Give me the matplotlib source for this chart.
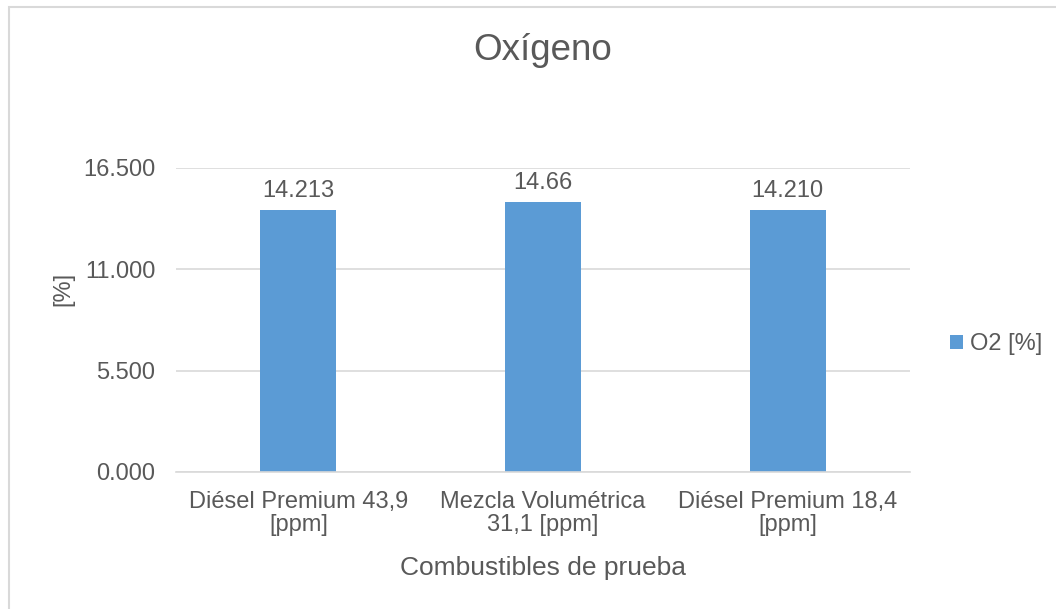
import matplotlib
matplotlib.use("Agg")
import matplotlib.pyplot as plt
from matplotlib.patches import Rectangle
import numpy as np

categories = ["Diésel Premium 43,9\n[ppm]", "Mezcla Volumétrica\n31,1 [ppm]", "Diésel Premium 18,4\n[ppm]"]
o2_values = [14.213, 14.66, 14.210]
label_decimals = [3, 2, 3]
y_ticks = [0.0, 5.5, 11.0, 16.5]

title = "Oxígeno"
x_title = "Combustibles de prueba"
y_title = "[%]"
series_name = "O2 [%]"

BAR_COLOR = "#5B9BD5"
TEXT_COLOR = "#595959"
GRID_COLOR = "#D9D9D9"

plt.rcParams["font.family"] = ["Liberation Sans", "DejaVu Sans"]

fig = plt.figure(figsize=(10.56, 6.09), dpi=100)
fig.patches.append(Rectangle((9 / 1056, -0.05), 1.2, 1 - 7 / 609 + 0.05,
                             transform=fig.transFigure, fill=False,
                             edgecolor="#D9D9D9", linewidth=1.5))

ax = fig.add_axes([176 / 1056, 1 - 472 / 609, (910 - 176) / 1056, (472 - 168) / 609])
x = np.arange(len(categories))
bars = ax.bar(x, o2_values, width=0.31, color=BAR_COLOR, label=series_name, zorder=3)

ax.set_xlim(-0.5, len(categories) - 0.5)
ax.set_ylim(y_ticks[0], y_ticks[-1])
ax.set_yticks(y_ticks)
ax.set_yticklabels([f"{t:.3f}" for t in y_ticks])
ax.set_xticks(x)
ax.set_xticklabels(categories, linespacing=1.05)
ax.tick_params(axis="both", length=0, labelsize=17, labelcolor=TEXT_COLOR)
ax.tick_params(axis="y", pad=15)
ax.tick_params(axis="x", pad=14)

ax.grid(axis="y", color=GRID_COLOR, linewidth=1.2, zorder=0)
for side in ("top", "right", "left"):
    ax.spines[side].set_visible(False)
ax.spines["bottom"].set_color(GRID_COLOR)
ax.spines["bottom"].set_linewidth(1.2)
ax.spines["bottom"].set_zorder(4)

for rect, v, d in zip(bars, o2_values, label_decimals):
    ax.annotate(f"{v:.{d}f}", (rect.get_x() + rect.get_width() / 2, v),
                xytext=(0, 6), textcoords="offset points",
                ha="center", va="bottom", fontsize=17, color=TEXT_COLOR)

ax.set_xlabel(x_title, fontsize=19, color=TEXT_COLOR, labelpad=14)
ax.set_ylabel(y_title, fontsize=17, color=TEXT_COLOR, labelpad=6)
ax.yaxis.set_label_coords(-0.139, (472 - 289) / (472 - 168))
fig.text(0.5 * (176 + 910) / 1056, 1 - 51 / 609, title, ha="center", va="center",
         fontsize=26.5, color=TEXT_COLOR)

leg = fig.legend(handles=[bars], labels=[series_name], loc="center left",
                 bbox_to_anchor=(929 / 1056, 1 - 344 / 609), frameon=False,
                 fontsize=17, handlelength=0.55, handleheight=0.55, handletextpad=0.3,
                 labelcolor=TEXT_COLOR)

fig.savefig("out.png", dpi=100, facecolor="white")
